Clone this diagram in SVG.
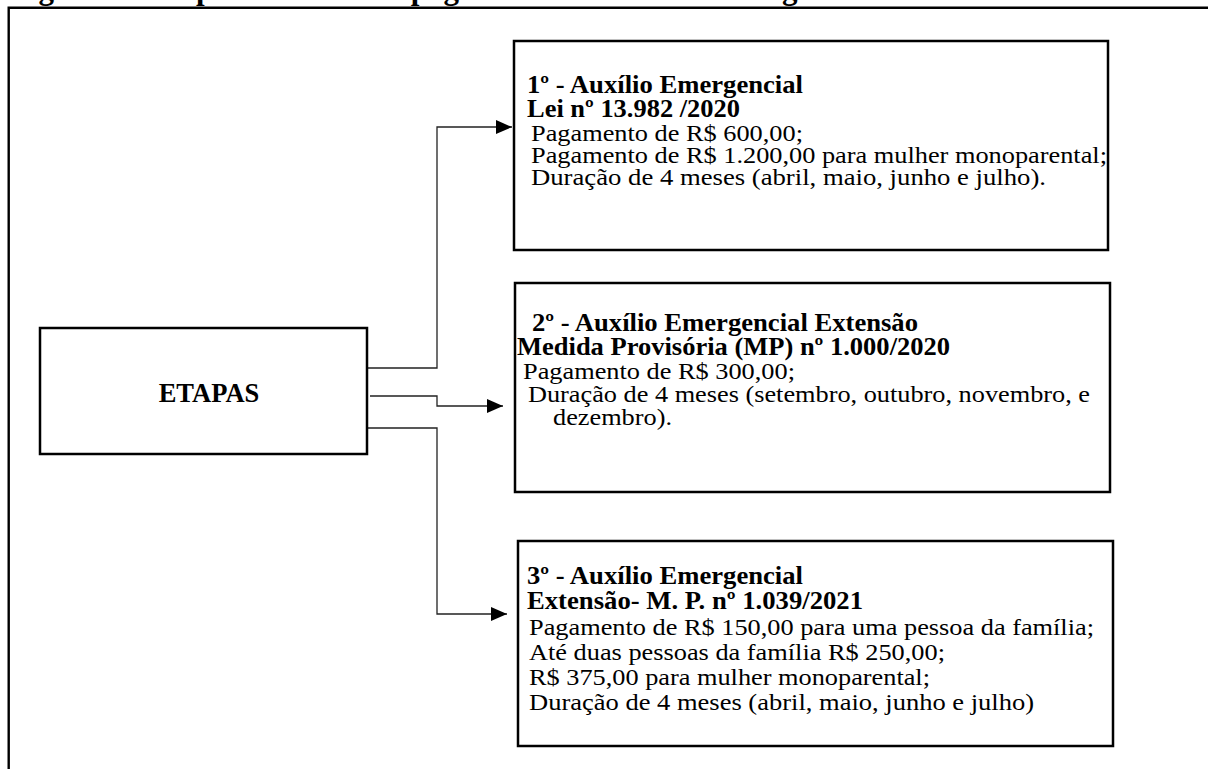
<svg xmlns="http://www.w3.org/2000/svg" width="1208" height="769" viewBox="0 0 1208 769">
<defs>
<style>
.bx{fill:#fff;stroke:#000;stroke-width:2.5}
.t{font-family:"Liberation Serif","Times New Roman",serif;fill:#000}
.b{font-weight:bold;font-size:25px}
.r{font-size:23.5px}
.cn{fill:none;stroke:#222;stroke-width:1.3}
</style>
<marker id="ah" viewBox="0 0 16 14" refX="16" refY="7" markerWidth="16" markerHeight="14" markerUnits="userSpaceOnUse" orient="auto">
<path d="M0,0 L16,7 L0,14 Z" fill="#000"/>
</marker>
</defs>
<rect width="1208" height="769" fill="#fff"/>
<text class="t" x="11" y="-1.5" style="font-size:31px;font-weight:bold">Figura 1 - Etapas e valores de pagamento do Auxílio Emergencial</text>
<path d="M8.7,780 V7.8 H1215" fill="none" stroke="#000" stroke-width="2.4"/>
<g id="connectors">
<path class="cn" d="M363,368 H437 V127 H512" marker-end="url(#ah)"/>
<path class="cn" d="M370,396 H437 V406 H503" marker-end="url(#ah)"/>
<path class="cn" d="M367,428 H437 V614 H507" marker-end="url(#ah)"/>
</g>
<g id="etapas">
<rect class="bx" x="40" y="328" width="327" height="126"/>
<text class="t" x="209" y="402" text-anchor="middle" style="font-size:26.5px;font-weight:bold">ETAPAS</text>
</g>
<g id="etapa1">
<rect class="bx" x="514" y="41" width="594" height="209"/>
<text class="t b" x="527" y="93" textLength="276" lengthAdjust="spacingAndGlyphs">1º - Auxílio Emergencial</text>
<text class="t b" x="527" y="117" textLength="213" lengthAdjust="spacingAndGlyphs">Lei nº 13.982 /2020</text>
<text class="t r" x="531" y="141" textLength="272" lengthAdjust="spacingAndGlyphs">Pagamento de R$ 600,00;</text>
<text class="t r" x="531" y="163" textLength="576" lengthAdjust="spacingAndGlyphs">Pagamento de R$ 1.200,00 para mulher monoparental;</text>
<text class="t r" x="531" y="185" textLength="515" lengthAdjust="spacingAndGlyphs">Duração de 4 meses (abril, maio, junho e julho).</text>
</g>
<g id="etapa2">
<rect class="bx" x="515" y="283" width="595" height="209"/>
<text class="t b" x="532" y="331" textLength="386" lengthAdjust="spacingAndGlyphs">2º - Auxílio Emergencial Extensão</text>
<text class="t b" x="517" y="355" textLength="433" lengthAdjust="spacingAndGlyphs">Medida Provisória (MP) nº 1.000/2020</text>
<text class="t r" x="523" y="379" textLength="272" lengthAdjust="spacingAndGlyphs">Pagamento de R$ 300,00;</text>
<text class="t r" x="528" y="402" textLength="562" lengthAdjust="spacingAndGlyphs">Duração de 4 meses (setembro, outubro, novembro, e</text>
<text class="t r" x="553" y="425" textLength="119" lengthAdjust="spacingAndGlyphs">dezembro).</text>
</g>
<g id="etapa3">
<rect class="bx" x="518" y="541" width="595" height="205"/>
<text class="t b" x="527" y="584" textLength="276" lengthAdjust="spacingAndGlyphs">3º - Auxílio Emergencial</text>
<text class="t b" x="527" y="609" textLength="336" lengthAdjust="spacingAndGlyphs">Extensão- M. P. nº 1.039/2021</text>
<text class="t r" x="529" y="635" textLength="565" lengthAdjust="spacingAndGlyphs">Pagamento de R$ 150,00 para uma pessoa da família;</text>
<text class="t r" x="529" y="660" textLength="416" lengthAdjust="spacingAndGlyphs">Até duas pessoas da família R$ 250,00;</text>
<text class="t r" x="529" y="685" textLength="401" lengthAdjust="spacingAndGlyphs">R$ 375,00 para mulher monoparental;</text>
<text class="t r" x="529" y="710" textLength="505" lengthAdjust="spacingAndGlyphs">Duração de 4 meses (abril, maio, junho e julho)</text>
</g>
</svg>
